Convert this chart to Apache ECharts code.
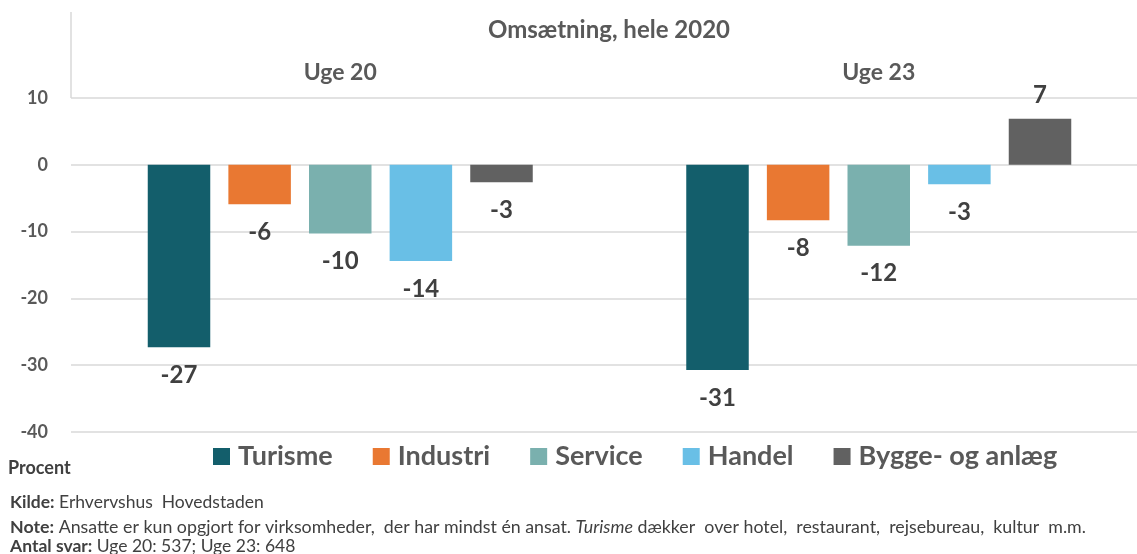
<!DOCTYPE html>
<html>
<head>
<meta charset="utf-8">
<script src="https://cdn.jsdelivr.net/npm/echarts@6/dist/echarts.min.js"></script>
<style>
html,body{margin:0;padding:0;background:#fff;}
#chart{width:1137px;height:554px;}
</style>
</head>
<body>
<div id="chart"></div>
<script>
// ---- data ----
const categories = ['Uge 20', 'Uge 23'];
const seriesNames = ['Turisme', 'Industri', 'Service', 'Handel', 'Bygge- og anlæg'];
const turisme = [-27.3, -30.7];
const industri = [-5.9, -8.3];
const service = [-10.3, -12.1];
const handel = [-14.4, -2.9];
const bygge = [-2.6, 6.9];
const yTicks = [10, 0, -10, -20, -30, -40];
const colors = ['#135E6B', '#E97832', '#7AB0AE', '#69BFE6', '#616161'];
const titleText = 'Omsætning, hele 2020';

const seriesValues = [turisme, industri, service, handel, bygge];
const FONT = 'Lato, "Open Sans", sans-serif';

const chart = echarts.init(document.getElementById('chart'), null, {renderer: 'canvas'});

const series = seriesNames.map((name, i) => ({
  name: name,
  type: 'bar',
  barWidth: 62.5,
  barGap: '29%',
  itemStyle: {color: colors[i]},
  data: seriesValues[i].map(v => ({
    value: v,
    label: {position: v < 0 ? 'bottom' : 'top', distance: v < 0 ? 16 : 11}
  })),
  label: {
    show: true,
    color: '#404040',
    fontFamily: FONT,
    fontWeight: 'bold',
    fontSize: 24,
    formatter: p => String(Math.round(p.value))
  }
}));

chart.setOption({
  animation: false,
  backgroundColor: '#fff',
  title: {
    text: titleText,
    left: 604,
    top: 13,
    textAlign: 'center',
    textStyle: {fontFamily: FONT, fontWeight: 'bold', fontSize: 24, color: '#595959'}
  },
  grid: {left: 71, right: -11, top: 98, bottom: 122, containLabel: false, outerBoundsMode: 'none'},
  xAxis: {
    type: 'category',
    data: categories,
    position: 'top',
    axisLine: {show: false},
    axisTick: {show: false},
    axisLabel: {
      margin: 14,
      fontFamily: FONT, fontWeight: 'bold', fontSize: 23, color: '#595959'
    },
    splitLine: {show: false}
  },
  yAxis: {
    type: 'value',
    min: Math.min(...yTicks),
    max: Math.max(...yTicks),
    interval: 10,
    axisLine: {show: false},
    axisTick: {show: false},
    axisLabel: {
      margin: 23,
      fontFamily: FONT, fontWeight: 'bold', fontSize: 18, color: '#595959'
    },
    splitLine: {lineStyle: {color: '#D9D9D9', width: 1.5}}
  },
  legend: {
    data: seriesNames,
    left: 208,
    top: 438,
    icon: 'rect',
    itemWidth: 17,
    itemHeight: 17,
    itemGap: 40,
    textStyle: {fontFamily: FONT, fontWeight: 'bold', fontSize: 27, color: '#595959', padding: [0, 0, 0, 3]}
  },
  graphic: [
    {type: 'line', shape: {x1: 71, y1: 12, x2: 71, y2: 98}, style: {stroke: '#D9D9D9', lineWidth: 1.5}},
    {type: 'text', left: 8, top: 459, style: {text: 'Procent', font: 'bold 18px ' + FONT, fill: '#404040'}},
    {type: 'text', left: 10, top: 493, style: {
      text: '{b|Kilde:} Erhvervshus  Hovedstaden',
      font: '17.5px ' + FONT, fill: '#404040',
      rich: {b: {fontFamily: FONT, fontWeight: 'bold', fontSize: 17.5, fill: '#404040'}}
    }},
    {type: 'text', left: 10, top: 518, style: {
      text: '{b|Note:} Ansatte er kun opgjort for virksomheder,  der har mindst én ansat. {i|Turisme} dækker  over hotel,  restaurant,  rejsebureau,  kultur  m.m.',
      font: '17.8px ' + FONT, fill: '#404040',
      rich: {
        b: {fontFamily: FONT, fontWeight: 'bold', fontSize: 17.8, fill: '#404040'},
        i: {fontFamily: FONT, fontStyle: 'italic', fontSize: 17.8, fill: '#404040'}
      }
    }},
    {type: 'text', left: 10, top: 537, style: {
      text: '{b|Antal svar:} Uge 20: 537; Uge 23: 648',
      font: '17.5px ' + FONT, fill: '#404040',
      rich: {b: {fontFamily: FONT, fontWeight: 'bold', fontSize: 17.5, fill: '#404040'}}
    }}
  ],
  series: series
});
</script>
</body>
</html>
